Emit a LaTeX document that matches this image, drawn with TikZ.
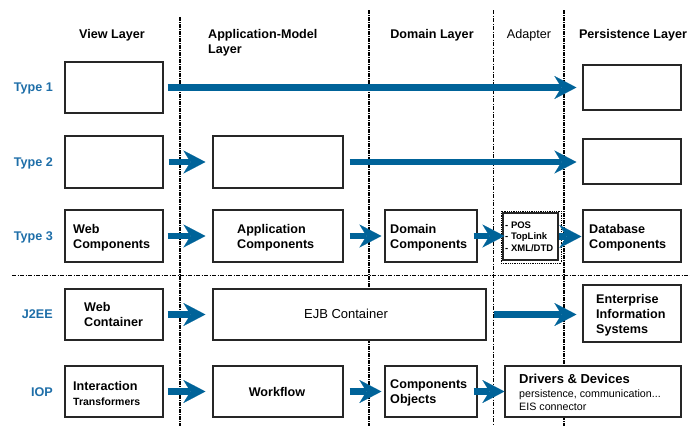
\documentclass[tikz,border=0pt]{standalone}
\usepackage{fontspec}
\setmainfont{Liberation Sans}
\usetikzlibrary{arrows.meta,calc}
\definecolor{arrowblue}{RGB}{0,99,153}
\definecolor{labelblue}{RGB}{30,110,168}
\begin{document}
\begin{tikzpicture}[x=1pt,y=-1pt,
  box/.style={draw=black!85, fill=white, line width=1.2pt, inner sep=0pt},
  flow/.style={draw=arrowblue, line width=6.5pt, -{Stealth[length=22pt,width=23pt,inset=7pt,line width=0.1pt]}},
  head/.style={font=\bfseries\fontsize{12.6}{15}\selectfont, inner sep=0pt},
  rowlbl/.style={font=\bfseries\fontsize{12.6}{15}\selectfont, text=labelblue, inner sep=0pt, anchor=east},
  txt/.style={font=\bfseries\fontsize{12.6}{15}\selectfont, inner sep=0pt, anchor=west, align=left},
  divA/.style={line width=1.4pt, dash pattern=on 4pt off 1pt on 1pt off 1pt},
  divB/.style={line width=1.1pt, dash pattern=on 4pt off 1pt on 1pt off 1pt},
  divC/.style={line width=0.7pt, dash pattern=on 4pt off 1.5pt on 1pt off 1.5pt}
]
\useasboundingbox (0,0) rectangle (690,426);
% dividers
\draw[divA] (180,17) -- (180,426);
\draw[divB] (369,10) -- (369,426);
\draw[divC] (493,10) -- (493,426);
\draw[divB] (564,10) -- (564,426);
\draw[divC, line width=0.9pt] (12,275) -- (690,275);

% headings
\node[head] (hview) at (112,35) {View Layer};
\node[head, anchor=west, align=left] (happ) at (208,42.5) {Application-Model\\Layer};
\node[head] (hdom) at (432,35) {Domain Layer};
\node[head, font=\fontsize{12.6}{15}\selectfont] (hada) at (529,35) {Adapter};
\node[head] (hper) at (633,35) {Persistence Layer};

% row labels
\node[rowlbl] (t1) at (53,88) {Type 1};
\node[rowlbl] (t2) at (53,163) {Type 2};
\node[rowlbl] (t3) at (53,237) {Type 3};
\node[rowlbl] (tj) at (53,314) {J2EE};
\node[rowlbl] (ti) at (53,392) {IOP};

% row 1
\node[box, minimum width=98pt, minimum height=51pt] (v1) at (114,87.5) {};
\node[box, minimum width=98pt, minimum height=45pt] (p1) at (632,87.5) {};
% row 2
\node[box, minimum width=98pt, minimum height=52pt] (v2) at (114,162) {};
\node[box, minimum width=130pt, minimum height=52pt] (a2) at (278,162) {};
\node[box, minimum width=98pt, minimum height=45pt] (p2) at (632,161.5) {};
% row 3
\node[box, minimum width=98pt, minimum height=52pt] (wc) at (114,236) {};
\node[box, minimum width=130pt, minimum height=52pt] (ac) at (278,236) {};
\node[box, minimum width=92pt, minimum height=52pt] (dc) at (431,236) {};
\node[box, minimum width=55pt, minimum height=47pt] (ad) at (530.5,236.5) {};
\draw[densely dotted, line width=0.8pt] ($(ad.north west)+(-1.5,-1.5)$) rectangle ($(ad.south east)+(2.5,2.5)$);
\node[box, minimum width=98pt, minimum height=52pt] (db) at (632,236) {};
% row 4
\node[box, minimum width=98pt, minimum height=51pt] (wct) at (114,314.5) {};
\node[box, minimum width=273pt, minimum height=51pt] (ejb) at (349.5,314.5) {};
\node[box, minimum width=98pt, minimum height=57pt] (eis) at (632,313.5) {};
% row 5
\node[box, minimum width=98pt, minimum height=51pt] (it) at (114,391.5) {};
\node[box, minimum width=130pt, minimum height=51pt] (wf) at (278,391.5) {};
\node[box, minimum width=92pt, minimum height=51pt] (co) at (431,391.5) {};
\node[box, minimum width=176pt, minimum height=51pt] (dd) at (593,391.5) {};

% box texts
\node[txt] (wct1) at (73,237.5) {Web\\Components};
\node[txt] (act1) at (237,237.5) {Application\\Components};
\node[txt] (dct1) at (390,237.5) {Domain\\Components};
\node[txt] (dbt1) at (589,237.5) {Database\\Components};
\node[txt, font=\bfseries\fontsize{9.5}{11.5}\selectfont] (adt1) at (505,236.5) {- POS\\- TopLink\\- XML/DTD};
\node[txt] (wctt) at (84,314.5) {Web\\Container};
\node[inner sep=0pt, font=\fontsize{13}{15}\selectfont] (ejbt) at (346,314) {EJB Container};
\node[txt] (eist) at (596,315) {Enterprise\\Information\\Systems};
\node[txt] (itt) at (73,393) {Interaction\\{\fontsize{10.5}{12}\selectfont Transformers}};
\node[txt, anchor=center] (wft) at (277,392) {Workflow};
\node[txt] (cot) at (390,392.5) {Components\\Objects};
\node[txt, font=\fontsize{10.7}{12.5}\selectfont] (ddt) at (519,392.5) {{\bfseries\fontsize{13}{15}\selectfont Drivers \& Devices}\\[1.5pt]persistence, communication...\\EIS connector};

% arrows
\draw[flow] ($(v1.east)+(4,0)$) -- ($(v1.east -| p1.west)+(-6,0)$);
\draw[flow] ($(v2.east)+(5,0)$) -- ($(v2.east -| a2.west)+(-7,0)$);
\draw[flow] ($(a2.east)+(6,0)$) -- ($(a2.east -| p2.west)+(-6,0)$);
\draw[flow] ($(wc.east)+(4,0)$) -- ($(wc.east -| ac.west)+(-7,0)$);
\draw[flow] ($(ac.east)+(6,0)$) -- ($(ac.east -| dc.west)+(-3,0)$);
\draw[flow] ($(dc.east)+(-4,0)$) -- ($(dc.east -| ad.west)+(2,0)$);
\draw[flow] ($(ad.east)+(0,0)$) -- ($(ad.east -| db.west)+(-1,0)$);
\draw[flow] ($(wct.east)+(4,0)$) -- ($(wct.east -| ejb.west)+(-7,0)$);
\draw[flow] ($(ejb.east)+(7,0)$) -- ($(ejb.east -| eis.west)+(-6,0)$);
\draw[flow] ($(it.east)+(4,0)$) -- ($(it.east -| wf.west)+(-7,0)$);
\draw[flow] ($(wf.east)+(6,0)$) -- ($(wf.east -| co.west)+(-3,0)$);
\draw[flow] ($(co.east)+(-4,0)$) -- ($(co.east -| dd.west)+(0,0)$);
\end{tikzpicture}
\end{document}
